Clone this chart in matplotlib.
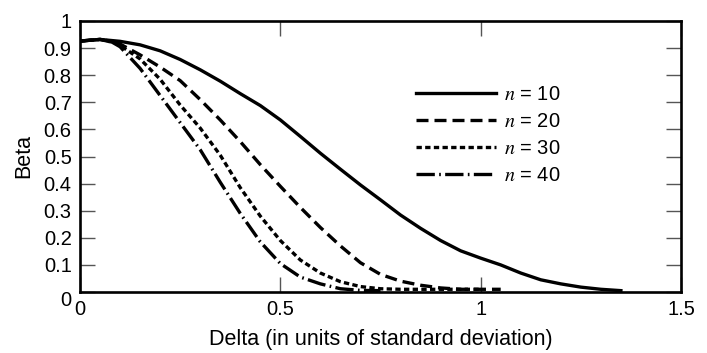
import matplotlib
matplotlib.use("Agg")
import matplotlib.pyplot as plt
import matplotlib.transforms as mtransforms

plt.rcParams['font.family'] = ['Liberation Sans', 'DejaVu Sans']
plt.rcParams['mathtext.fontset'] = 'stix'

# beta curves
x10 = [0.0, 0.05, 0.10, 0.15, 0.20, 0.25, 0.30, 0.35, 0.40, 0.45, 0.50, 0.55, 0.60, 0.65,
       0.70, 0.75, 0.80, 0.85, 0.90, 0.95, 1.00, 1.05, 1.10, 1.15, 1.20, 1.25, 1.30, 1.35]
b10 = [0.926, 0.932, 0.925, 0.912, 0.89, 0.858, 0.82, 0.778, 0.732, 0.688, 0.635, 0.574, 0.512, 0.453,
       0.395, 0.34, 0.284, 0.235, 0.19, 0.152, 0.125, 0.10, 0.07, 0.045, 0.03, 0.018, 0.01, 0.005]

x20 = [0.0, 0.05, 0.10, 0.15, 0.20, 0.25, 0.30, 0.35, 0.40, 0.45, 0.50, 0.55, 0.60, 0.65,
       0.70, 0.75, 0.80, 0.85, 0.90, 0.95, 1.05]
b20 = [0.926, 0.932, 0.915, 0.875, 0.83, 0.78, 0.71, 0.635, 0.555, 0.47, 0.39, 0.312, 0.238, 0.17,
       0.108, 0.065, 0.04, 0.025, 0.015, 0.01, 0.01]

x30 = [0.0, 0.05, 0.08, 0.10, 0.15, 0.20, 0.25, 0.30, 0.35, 0.40, 0.45, 0.50, 0.55, 0.60,
       0.65, 0.70, 0.75, 0.80, 1.0]
b30 = [0.926, 0.932, 0.925, 0.91, 0.86, 0.785, 0.69, 0.605, 0.505, 0.385, 0.28, 0.19, 0.118, 0.07,
       0.038, 0.02, 0.012, 0.01, 0.01]

x40 = [0.0, 0.05, 0.08, 0.10, 0.15, 0.20, 0.25, 0.30, 0.35, 0.40, 0.45, 0.50, 0.55, 0.60,
       0.65, 0.70, 0.75]
b40 = [0.926, 0.932, 0.922, 0.905, 0.825, 0.725, 0.625, 0.525, 0.405, 0.29, 0.185, 0.105, 0.055, 0.03,
       0.012, 0.006, 0.005]

fig = plt.figure(figsize=(7.07, 3.53), dpi=100)
ax = fig.add_axes([80/707, 1 - 292/353, 601/707, 271/353])

lw = 2.4
ax.plot(x10, b10, color='black', lw=lw, ls='-', label='$n$ = 10')
ax.plot(x20, b20, color='black', lw=lw, ls=(0, (3.6, 1.8)), label='$n$ = 20')
ax.plot(x30, b30, color='black', lw=lw, ls=(0, (1.6, 1.0)), label='$n$ = 30')
ax.plot(x40, b40, color='black', lw=lw, ls=(0, (5.5, 1.3, 0.5, 1.3)), label='$n$ = 40')

ax.set_xlim(0, 1.5)
ax.set_ylim(0, 1)
ax.set_xticks([0, 0.5, 1, 1.5])
ax.set_xticklabels(['0', '0.5', '1', '1.5'])
ax.set_yticks([i / 10 for i in range(11)])
ax.set_yticklabels(['0', '0.1', '0.2', '0.3', '0.4', '0.5', '0.6', '0.7', '0.8', '0.9', '1'])
ax.tick_params(direction='in', length=10.5, width=1, color='#555555',
               top=True, right=True, labelsize=14.5, pad=6)
for s in ax.spines.values():
    s.set_linewidth(1.9)

# the y "0" sits a little below its tick in the original
zero = ax.get_yticklabels()[0]
zero.set_transform(zero.get_transform() +
                   mtransforms.ScaledTranslation(0, -5/72, fig.dpi_scale_trans))

ax.set_xlabel('Delta (in units of standard deviation)', fontsize=15.5, labelpad=7)
ax.set_ylabel('Beta', fontsize=15.5, labelpad=7)

leg = ax.legend(loc='upper left', bbox_to_anchor=(0.545, 0.795), frameon=False,
                fontsize=14.5, handlelength=4.0, handletextpad=0.4, labelspacing=0.4,
                borderaxespad=0)

fig.savefig('out.png', dpi=100)
